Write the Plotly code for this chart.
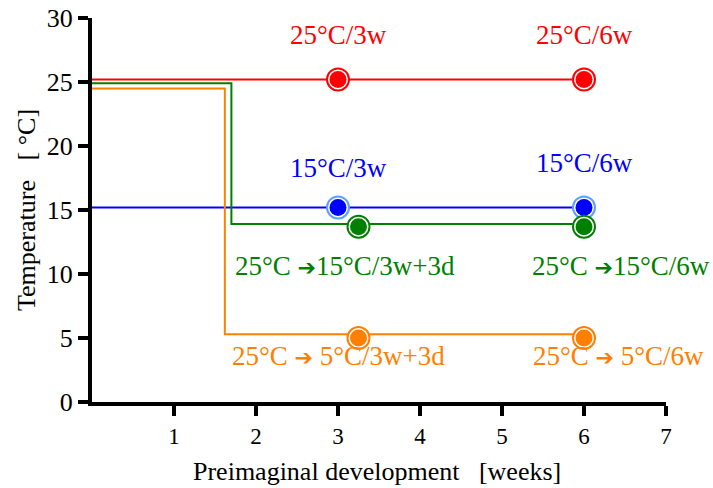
import plotly.graph_objects as go

# ---- data ----
red_x = [0, 6]
red_y = [25.2, 25.2]
blue_x = [0, 6]
blue_y = [15.2, 15.2]
green_x = [0, 1.7, 1.7, 6]
green_y = [24.9, 24.9, 13.9, 13.9]
orange_x = [0, 1.62, 1.62, 6]
orange_y = [24.5, 24.5, 5.3, 5.3]

red_pts_x = [3, 6]
red_pts_y = [25.2, 25.2]
blue_pts_x = [3, 6]
blue_pts_y = [15.2, 15.2]
green_pts_x = [3.25, 6]
green_pts_y = [13.7, 13.7]
orange_pts_x = [3.25, 6]
orange_pts_y = [5.0, 5.0]

x_ticks = [1, 2, 3, 4, 5, 6, 7]
y_ticks = [0, 5, 10, 15, 20, 25, 30]

ARROW = "<span style='font-family:DejaVu Sans;font-size:22px'>\u2794</span>"
labels = [
    ("25°C/3w", 3.0, 28.7, "#ff0000"),
    ("25°C/6w", 6.0, 28.7, "#ff0000"),
    ("15°C/3w", 3.0, 18.3, "#0000ff"),
    ("15°C/6w", 6.0, 18.7, "#0000ff"),
    ("25°C " + ARROW + "15°C/3w+3d", 3.08, 10.6, "#008000"),
    ("25°C " + ARROW + "15°C/6w", 6.45, 10.6, "#008000"),
    ("25°C " + ARROW + " 5°C/3w+3d", 3.0, 3.6, "#ff8000"),
    ("25°C " + ARROW + " 5°C/6w", 6.42, 3.6, "#ff8000"),
]

RED, BLUE, GREEN, ORANGE = "#ff0000", "#0000ff", "#008000", "#ff8000"
FONT = "Liberation Serif, Times New Roman, serif"

fig = go.Figure()
for xs, ys, c in [(red_x, red_y, RED), (blue_x, blue_y, BLUE),
                  (green_x, green_y, GREEN), (orange_x, orange_y, ORANGE)]:
    fig.add_trace(go.Scatter(x=xs, y=ys, mode="lines",
                             line=dict(color=c, width=2), cliponaxis=False,
                             showlegend=False, hoverinfo="skip"))

ring = {RED: RED, BLUE: "#5aa0ff", GREEN: GREEN, ORANGE: ORANGE}
for xs, ys, c in [(red_pts_x, red_pts_y, RED), (blue_pts_x, blue_pts_y, BLUE),
                  (green_pts_x, green_pts_y, GREEN), (orange_pts_x, orange_pts_y, ORANGE)]:
    fig.add_trace(go.Scatter(x=xs, y=ys, mode="markers", cliponaxis=False,
                             marker=dict(size=22, color="white",
                                         line=dict(color=ring[c], width=2)),
                             showlegend=False, hoverinfo="skip"))
    fig.add_trace(go.Scatter(x=xs, y=ys, mode="markers", cliponaxis=False,
                             marker=dict(size=17, color=c, line=dict(width=0)),
                             showlegend=False, hoverinfo="skip"))

for text, x, y, c in labels:
    fig.add_annotation(x=x, y=y, text=text, showarrow=False,
                       font=dict(family=FONT, size=27, color=c),
                       xanchor="center", yanchor="middle")

fig.add_annotation(xref="paper", yref="paper", x=0.496, y=-0.76 * 86 / 384 - 0.01,
                   text="Preimaginal development\u00a0\u00a0 [weeks]",
                   showarrow=False, font=dict(family=FONT, size=26, color="black"),
                   xanchor="center", yanchor="middle")
fig.add_annotation(xref="paper", yref="paper", x=-66 / 574, y=0.50,
                   text="Temperature\u00a0\u00a0 [ °C]", textangle=-90,
                   showarrow=False, font=dict(family=FONT, size=26, color="black"),
                   xanchor="center", yanchor="middle")

fig.update_layout(
    width=713, height=488,
    margin=dict(l=92, r=47, t=18, b=86),
    plot_bgcolor="white", paper_bgcolor="white",
    font=dict(family=FONT, color="black"),
    xaxis=dict(range=[0, 7], tickvals=x_ticks, ticks="outside", ticklen=10,
               tickwidth=4, tickcolor="black", showline=True, linewidth=4,
               linecolor="black", showgrid=False, zeroline=False,
               automargin=False, tickfont=dict(size=23, family=FONT)),
    yaxis=dict(range=[0, 30], tickvals=y_ticks, ticks="outside", ticklen=10,
               tickwidth=4, tickcolor="black", showline=True, linewidth=4,
               linecolor="black", showgrid=False, zeroline=False,
               automargin=False, tickfont=dict(size=26, family=FONT)),
)

fig.write_html("out.html")
